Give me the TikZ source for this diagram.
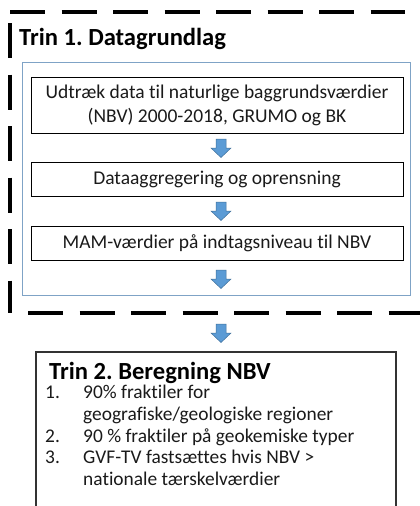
\documentclass[tikz,border=0pt]{standalone}
\usepackage{fontspec}
\setmainfont{Carlito}[Ligatures={NoCommon,NoContextual,NoRequired}, Contextuals=NoAlternate]
\usetikzlibrary{positioning}
\definecolor{arrfill}{HTML}{5B9BD5}
\definecolor{arrline}{HTML}{41719C}
\definecolor{panelblue}{HTML}{7FA3C6}
\definecolor{txt}{HTML}{1A1A1A}
\tikzset{
  outerdash/.style={line width=4pt, dash pattern=on 35pt off 16.5pt, black},
  stepbox/.style={draw=black, line width=0.9pt, fill=white},
  panel/.style={draw=panelblue, line width=1pt},
  boxtext/.style={font=\fontsize{19.5}{24}\selectfont, text=txt, align=center, inner sep=0pt},
  listtext/.style={font=\fontsize{19.4}{22}\selectfont, text=txt, anchor=base west, inner sep=0pt},
  titletext/.style={font=\fontsize{24.6}{29}\selectfont\bfseries, text=black, anchor=base west, inner sep=0pt},
  blockarrow/.style={fill=arrfill, draw=arrline, line width=0.5pt},
}
\begin{document}
\frenchspacing
\begin{tikzpicture}[x=1pt,y=-1pt]
\useasboundingbox (0,0) rectangle (420,506);
\clip (0,0) rectangle (420,506);
\fill[white] (0,0) rectangle (420,506);

% outer dashed frame
\draw[outerdash] (10,12) -- (405,12);
\draw[outerdash] (10,23) -- (10,313);
\draw[outerdash] (28,313) -- (430,313);

% title
\node[titletext] (t1) at (19,45) {Trin 1. Datagrundlag};

% inner blue panel
\draw[panel] (22,62) rectangle (410,295);

% step boxes
\draw[stepbox] (31,77) rectangle (403,133);
\node[boxtext] (b1) at (217,105) {Udtræk data til naturlige baggrundsværdier\\(NBV) 2000-2018, GRUMO og BK};
\draw[stepbox] (31,162) rectangle (403,196);
\node[boxtext] (b2) at (217,179) {Dataaggregering og oprensning};
\draw[stepbox] (31,226) rectangle (403,260);
\node[boxtext] (b3) at (217,243) {MAM-værdier på indtagsniveau til NBV};

% block arrows
\coordinate (a1) at (221,139);
\coordinate (a2) at (221,202);
\coordinate (a3) at (221,270);
\coordinate (a4) at (221,324);
\foreach \a in {a1,a2,a3,a4}{
  \draw[blockarrow] (\a) ++(-5,0) -- ++(10,0) -- ++(0,9) -- ++(5,0) -- ++(-10,9.5) -- ++(-10,-9.5) -- ++(5,0) -- cycle;
}

% Trin 2 box
\draw[draw=black!80, line width=1.3pt] (36,352) rectangle (396,520);
\node[titletext] (t2) at (49,379) {Trin 2. Beregning NBV};
\node[listtext] (n1) at (45,398) {1.};
\node[listtext] (l1) at (83,398) {90\% fraktiler for};
\node[listtext] (l1b) at (83,420) {geografiske/geologiske regioner};
\node[listtext] (n2) at (45,442) {2.};
\node[listtext] (l2) at (83,442) {90 \% fraktiler på geokemiske typer};
\node[listtext] (n3) at (45,463) {3.};
\node[listtext] (l3) at (83,463) {GVF-TV fastsættes hvis NBV >};
\node[listtext] (l3b) at (83,485) {nationale tærskelværdier};
\end{tikzpicture}
\end{document}
